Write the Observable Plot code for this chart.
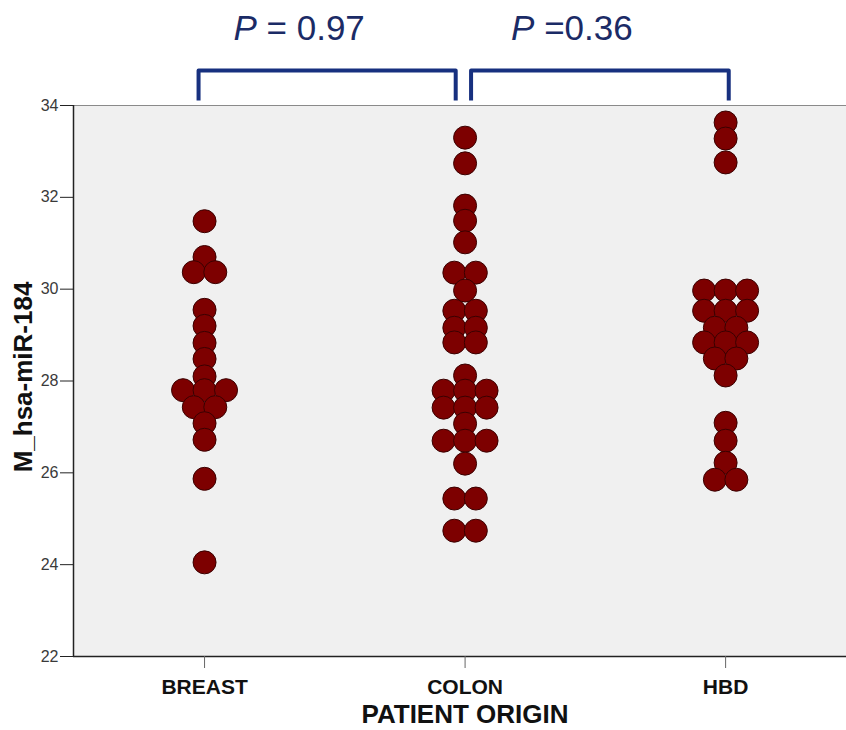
<!DOCTYPE html>
<html><head><meta charset="utf-8">
<script src="https://cdn.jsdelivr.net/npm/d3@7"></script>
<script src="https://cdn.jsdelivr.net/npm/@observablehq/plot@0.6"></script>
<style>
body{margin:0;background:#fff;}
#chart svg{display:block;}
</style></head><body><div id="chart"></div>
<script>
const categories = ["BREAST", "COLON", "HBD"];
const breastValues = [31.48, 30.7, 30.37, 30.37, 29.55, 29.2, 28.83, 28.48, 28.1, 27.8, 27.8, 27.8, 27.43, 27.43, 27.08, 26.72, 25.87, 24.05];
const colonValues = [33.3, 32.74, 31.82, 31.49, 31.02, 30.36, 30.36, 29.97, 29.53, 29.53, 29.16, 29.16, 28.84, 28.84, 28.12, 27.79, 27.79, 27.79, 27.42, 27.42, 27.42, 27.07, 26.7, 26.7, 26.7, 26.2, 25.44, 25.44, 24.74, 24.74];
const hbdValues = [33.63, 33.28, 32.76, 29.97, 29.97, 29.97, 29.53, 29.53, 29.53, 29.16, 29.16, 28.84, 28.84, 28.84, 28.49, 28.49, 28.12, 27.09, 26.7, 26.22, 25.85, 25.85];
const yTicks = [22, 24, 26, 28, 30, 32, 34];
const pLabels = ["P = 0.97", "P =0.36"];
const yLabel = "M_hsa-miR-184";
const xLabel = "PATIENT ORIGIN";

const series = [breastValues, colonValues, hbdValues];
const slotWidth = 0.0825; // horizontal dot spacing, in category units
const points = [];
series.forEach((vals, ci) => {
  const groups = d3.group(vals, v => v);
  for (const [v, arr] of groups) {
    const n = arr.length;
    arr.forEach((_, k) => points.push({cat: categories[ci], ci, v, x: ci + (k - (n - 1) / 2) * slotWidth}));
  }
});

const xDomain = [-0.503, 2.464];
const yDomain = [22, 34];
const yBracketLow = 34.11, yBracketHigh = 34.76, yText = 35.68;
const bracketSpecs = [
  {i: 0, left: -0.023, right: -0.036},
  {i: 1, left: 0.023, right: 0.012}
];
const bracketLines = [];
bracketSpecs.forEach((b, j) => {
  const x0 = b.i + b.left, x1 = b.i + 1 + b.right;
  [[x0, yBracketLow], [x0, yBracketHigh], [x1, yBracketHigh], [x1, yBracketLow]].forEach(([x, y]) => bracketLines.push({j, x, y}));
});
const pText = bracketSpecs.map((b, j) => ({x: b.i + 0.5 + (b.left + b.right) / 2, y: yText, t: pLabels[j]}));

const chart = Plot.plot({
  width: 846,
  height: 730,
  marginLeft: 73,
  marginRight: 0,
  marginTop: 105,
  marginBottom: 74,
  style: {fontFamily: "'Liberation Sans', Arial, sans-serif", background: "white", overflow: "visible"},
  x: {type: "linear", domain: xDomain},
  y: {domain: yDomain},
  marks: [
    Plot.frame({fill: "#f0f0f0", stroke: "#8a8a8a", strokeWidth: 1}),
    Plot.ruleX([xDomain[0]], {stroke: "#222", strokeWidth: 1.5}),
    Plot.ruleY([yDomain[0]], {stroke: "#222", strokeWidth: 1.5}),
    Plot.axisY({ticks: yTicks, tickSize: 13, tickPadding: 2, fontSize: 16, fill: "#3a3a3a", stroke: "#222", label: null}),
    Plot.axisX({ticks: [0, 1, 2], tickFormat: i => categories[i], tickSize: 12, tickPadding: 11, fontSize: 21, fontWeight: "bold", fill: "#111", stroke: "#666", label: null}),
    Plot.text([yLabel], {frameAnchor: "left", textAnchor: "middle", dx: -50, dy: -4, rotate: -90, fontSize: 26, fontWeight: "bold", fill: "#111"}),
    Plot.text([xLabel], {frameAnchor: "bottom", dy: 66, dx: 5, fontSize: 26, fontWeight: "bold", fill: "#111"}),
    Plot.dot(points, {x: "x", y: "v", r: 11.5, fill: "#7d0000", stroke: "#3a0000", strokeWidth: 1}),
    Plot.line(bracketLines, {x: "x", y: "y", z: "j", stroke: "#17307f", strokeWidth: 4, strokeLinejoin: "round", strokeLinecap: "butt"}),
    Plot.text(pText, {x: "x", y: "y", text: "t", dx: -28, fontSize: 35, fill: "#1b2b66"})
  ]
});
document.getElementById("chart").appendChild(chart);

// italic P in the p-value labels
d3.select(chart).selectAll("text").filter(function() {
  return pLabels.includes(this.textContent);
}).each(function() {
  const t = d3.select(this);
  const s = t.text();
  t.text(null);
  t.append("tspan").attr("font-style", "italic").text(s.slice(0, 1));
  t.append("tspan").text(s.slice(1));
});
</script>
</body></html>
